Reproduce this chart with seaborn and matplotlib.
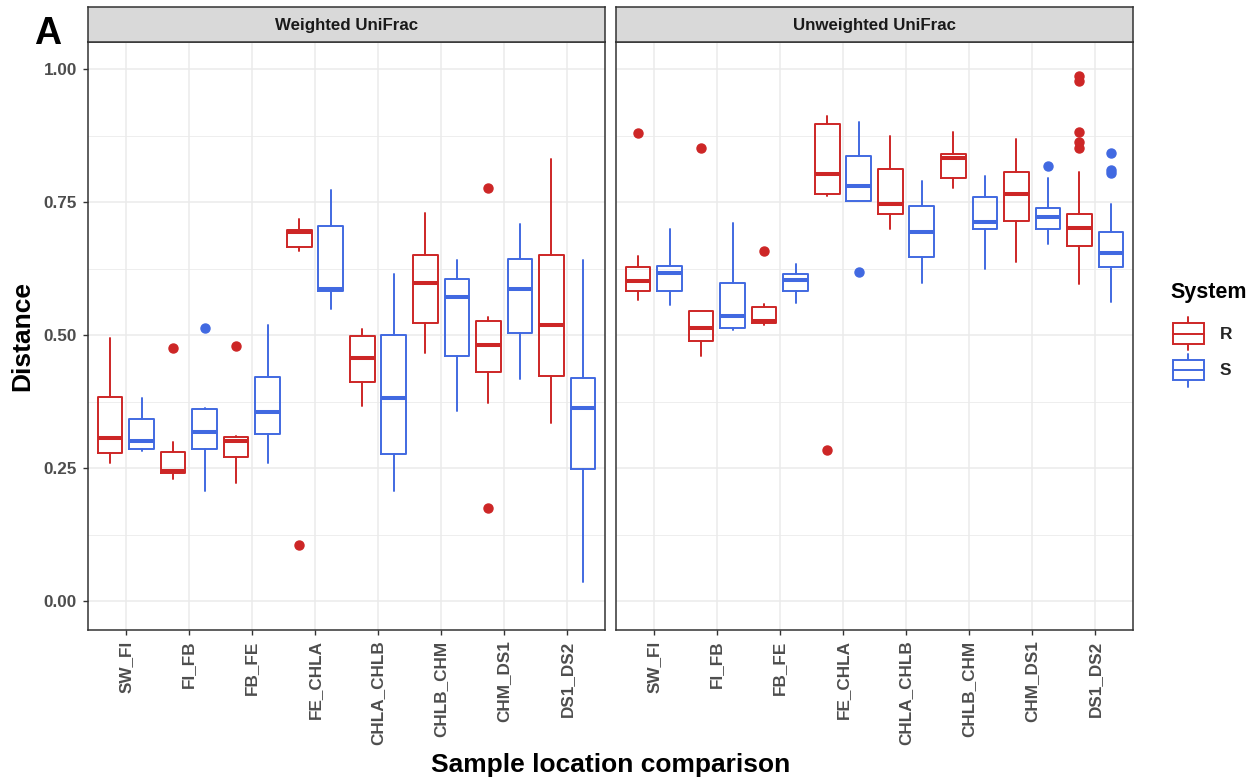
import numpy as np
import matplotlib
matplotlib.use("Agg")
import matplotlib.pyplot as plt
import seaborn as sns
from matplotlib.legend_handler import HandlerBase
from matplotlib.patches import Rectangle
from matplotlib.lines import Line2D

# ---------------- data ----------------
comparisons = ["SW_FI", "FI_FB", "FB_FE", "FE_CHLA", "CHLA_CHLB", "CHLB_CHM", "CHM_DS1", "DS1_DS2"]
systems = ["R", "S"]
metrics = ["Weighted UniFrac", "Unweighted UniFrac"]

# Weighted UniFrac, system R
wR_lo  = [0.259, 0.229, 0.222, 0.658, 0.367, 0.467, 0.372, 0.334]
wR_q1  = [0.279, 0.241, 0.270, 0.665, 0.411, 0.522, 0.431, 0.423]
wR_med = [0.306, 0.245, 0.300, 0.694, 0.457, 0.598, 0.482, 0.519]
wR_q3  = [0.384, 0.281, 0.309, 0.697, 0.498, 0.650, 0.526, 0.650]
wR_hi  = [0.494, 0.298, 0.310, 0.718, 0.511, 0.730, 0.533, 0.830]
wR_out = [[], [0.476], [0.479], [0.105], [], [], [0.776, 0.175], []]

# Weighted UniFrac, system S
wS_lo  = [0.282, 0.207, 0.260, 0.548, 0.207, 0.358, 0.418, 0.036]
wS_q1  = [0.285, 0.285, 0.314, 0.583, 0.276, 0.460, 0.503, 0.249]
wS_med = [0.300, 0.318, 0.355, 0.586, 0.381, 0.571, 0.586, 0.363]
wS_q3  = [0.343, 0.361, 0.422, 0.705, 0.500, 0.606, 0.642, 0.420]
wS_hi  = [0.382, 0.363, 0.518, 0.773, 0.614, 0.641, 0.708, 0.641]
wS_out = [[], [0.514], [], [], [], [], [], []]

# Unweighted UniFrac, system R
uR_lo  = [0.566, 0.461, 0.519, 0.761, 0.699, 0.777, 0.638, 0.596]
uR_q1  = [0.583, 0.489, 0.522, 0.766, 0.727, 0.796, 0.714, 0.668]
uR_med = [0.602, 0.514, 0.527, 0.803, 0.746, 0.833, 0.765, 0.702]
uR_q3  = [0.628, 0.546, 0.553, 0.896, 0.812, 0.841, 0.806, 0.727]
uR_hi  = [0.649, 0.546, 0.558, 0.912, 0.874, 0.881, 0.869, 0.807]
uR_out = [[0.880], [0.851], [0.658], [0.284], [], [], [], [0.986, 0.978, 0.882, 0.863, 0.851]]

# Unweighted UniFrac, system S
uS_lo  = [0.556, 0.510, 0.560, 0.751, 0.598, 0.624, 0.672, 0.563]
uS_q1  = [0.583, 0.513, 0.583, 0.751, 0.647, 0.699, 0.700, 0.627]
uS_med = [0.616, 0.536, 0.603, 0.780, 0.694, 0.712, 0.721, 0.655]
uS_q3  = [0.630, 0.597, 0.614, 0.836, 0.742, 0.759, 0.739, 0.694]
uS_hi  = [0.699, 0.711, 0.633, 0.901, 0.789, 0.798, 0.796, 0.747]
uS_out = [[], [], [], [0.618], [], [], [0.818], [0.843, 0.810, 0.805]]

y_ticks = [0.00, 0.25, 0.50, 0.75, 1.00]
y_tick_labels = ["0.00", "0.25", "0.50", "0.75", "1.00"]

# ---------------- style ----------------
sns.set_theme(style="whitegrid")
plt.rcParams['font.family'] = ['Liberation Sans', 'DejaVu Sans']

RED = "#CD2626"
BLUE = "#4169E1"
colors = {"R": RED, "S": BLUE}
offsets = {"R": -0.25, "S": 0.25}

series = {
    ("Weighted UniFrac", "R"): (wR_lo, wR_q1, wR_med, wR_q3, wR_hi, wR_out),
    ("Weighted UniFrac", "S"): (wS_lo, wS_q1, wS_med, wS_q3, wS_hi, wS_out),
    ("Unweighted UniFrac", "R"): (uR_lo, uR_q1, uR_med, uR_q3, uR_hi, uR_out),
    ("Unweighted UniFrac", "S"): (uS_lo, uS_q1, uS_med, uS_q3, uS_hi, uS_out),
}

W, H = 1257, 782
fig = plt.figure(figsize=(W / 100, H / 100), dpi=100)

panel_left = [88, 616]
panel_w = 517
panel_top, panel_bot = 42, 630
strip_top = 7

def fx(px):
    return px / W

def fy(py):
    return 1 - py / H

axes = []
for k, metric in enumerate(metrics):
    ax = fig.add_axes([fx(panel_left[k]), fy(panel_bot), panel_w / W, (panel_bot - panel_top) / H])
    axes.append(ax)
    ax.set_facecolor("white")
    pos = np.arange(len(comparisons))
    for s in systems:
        lo, q1, med, q3, hi, out = series[(metric, s)]
        stats = [dict(whislo=lo[i], q1=q1[i], med=med[i], q3=q3[i], whishi=hi[i], fliers=out[i])
                 for i in range(len(comparisons))]
        c = colors[s]
        ax.bxp(stats, positions=pos + offsets[s], widths=0.39, showcaps=False, showfliers=True,
               manage_ticks=False,
               boxprops=dict(color=c, lw=1.4),
               whiskerprops=dict(color=c, lw=1.4),
               medianprops=dict(color=c, lw=2.9, solid_capstyle="butt"),
               flierprops=dict(marker='o', markerfacecolor=c, markeredgecolor=c,
                               markersize=6.5, linestyle='none'))
    ax.set_xlim(-0.6, len(comparisons) - 0.4)
    ax.set_ylim(-0.0545, 1.0508)
    ax.set_xticks(pos)
    ax.set_xticklabels(comparisons, rotation=90, fontsize=12.3, fontweight="bold", color="#4D4D4D")
    ax.set_yticks(y_ticks)
    ax.set_yticks([0.125, 0.375, 0.625, 0.875], minor=True)
    if k == 0:
        ax.set_yticklabels(y_tick_labels, fontsize=12.3, fontweight="bold", color="#4D4D4D")
        ax.tick_params(axis="y", which="major", length=3.5, width=1.0, color="#333333",
                       left=True, pad=4.5)
    else:
        ax.set_yticklabels([])
        ax.tick_params(axis="y", which="major", length=0, left=False)
    ax.tick_params(axis="y", which="minor", length=0, left=False)
    ax.tick_params(axis="x", which="major", length=3.5, width=1.0, color="#333333",
                   bottom=True, pad=4)
    ax.grid(which="major", color="#EBEBEB", lw=1.1)
    ax.grid(which="minor", axis="y", color="#EBEBEB", lw=0.6)
    ax.set_axisbelow(True)
    for sp in ax.spines.values():
        sp.set_color("#333333")
        sp.set_linewidth(1.1)
    ax.set_xlabel("")
    ax.set_ylabel("")

    # facet strip
    sax = fig.add_axes([fx(panel_left[k]), fy(panel_top), panel_w / W, (panel_top - strip_top) / H])
    sax.set_facecolor("#D9D9D9")
    sax.set_xticks([])
    sax.set_yticks([])
    sax.grid(False)
    for sp in sax.spines.values():
        sp.set_color("#333333")
        sp.set_linewidth(1.1)
    sax.text(0.5, 0.47, metric, ha="center", va="center", fontsize=12.2, fontweight="bold",
             color="#1A1A1A", transform=sax.transAxes)

# axis titles
fig.text(fx((88 + 1133) / 2), fy(765), "Sample location comparison", ha="center", va="center",
         fontsize=19, fontweight="bold", color="black")
fig.text(fx(22), fy(336), "Distance", ha="center", va="center", rotation=90,
         fontsize=19, fontweight="bold", color="black")
fig.text(fx(34), fy(34), "A", ha="left", va="center", fontsize=27, fontweight="bold", color="black")

# legend with boxplot glyphs
class BoxHandler(HandlerBase):
    def create_artists(self, legend, orig_handle, xdescent, ydescent, width, height, fontsize, trans):
        c = orig_handle.get_color()
        x0, y0 = -xdescent, -ydescent
        b0, b1 = y0 + height * 0.19, y0 + height * 0.81
        rect = Rectangle((x0, b0), width, b1 - b0, facecolor="white", edgecolor=c, lw=1.4, transform=trans)
        mid = Line2D([x0, x0 + width], [y0 + height * 0.5] * 2, color=c, lw=1.4, transform=trans)
        wl = Line2D([x0 + width / 2] * 2, [y0, b0], color=c, lw=1.4, transform=trans)
        wh = Line2D([x0 + width / 2] * 2, [b1, y0 + height], color=c, lw=1.4, transform=trans)
        return [wl, wh, rect, mid]

fig.text(fx(1170), fy(293), "System", ha="left", va="center", fontsize=15.5, fontweight="bold",
         color="black")
handles = [Line2D([], [], color=colors[s]) for s in systems]
leg = fig.legend(handles=handles, labels=systems, handler_map={Line2D: BoxHandler()},
                 loc="upper left", bbox_to_anchor=(fx(1173), fy(317)), frameon=False,
                 prop=dict(size=12.5, weight="bold"),
                 handlelength=1.78, handleheight=2.55, labelspacing=0.2, handletextpad=0.9,
                 borderpad=0.0, borderaxespad=0.0)

fig.savefig("out.png", dpi=100)
